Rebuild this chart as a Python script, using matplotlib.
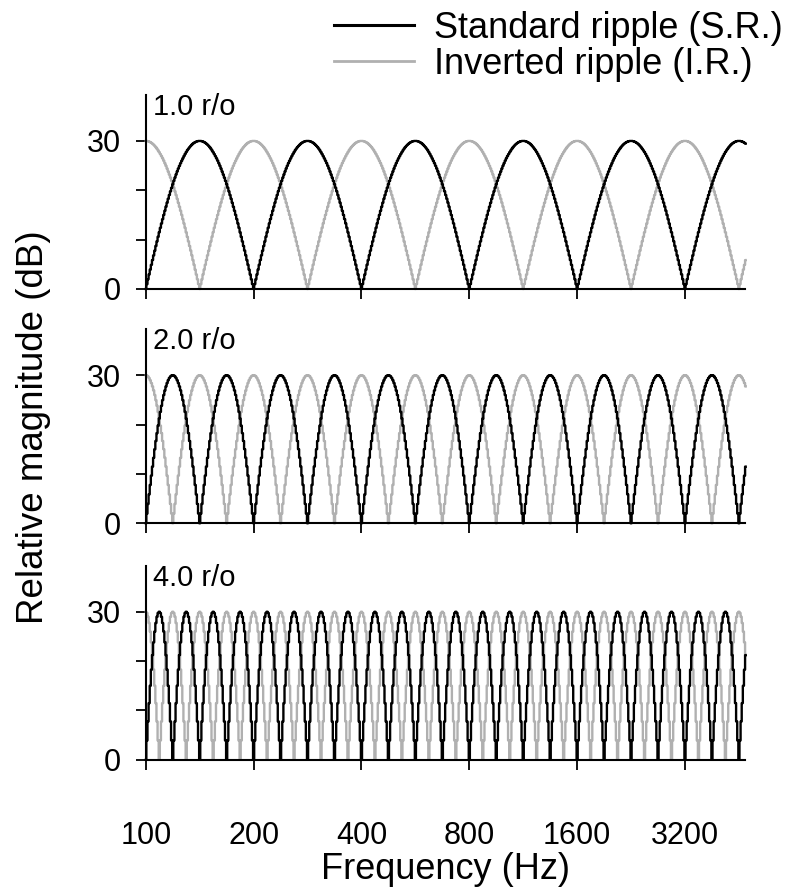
import numpy as np
import matplotlib
matplotlib.use('Agg')
import matplotlib.pyplot as plt
from matplotlib.lines import Line2D

plt.rcParams['font.family'] = ['Liberation Sans', 'DejaVu Sans']

# ripple stimulus parameters
ripple_densities = [1.0, 2.0, 4.0]          # ripples per octave
panel_labels = ['1.0 r/o', '2.0 r/o', '4.0 r/o']
ripple_depth_db = 30.0                      # peak-to-trough depth
freq_start_hz = 100.0
freq_stop_hz = 4720.0
samples_per_octave = 96

x_tick_values = [100, 200, 400, 800, 1600, 3200]
x_tick_labels = ['100', '200', '400', '800', '1600', '3200']
y_tick_values = [0, 10, 20, 30]
y_tick_labels = ['0', '', '', '30']

series_names = ['Standard ripple (S.R.)', 'Inverted ripple (I.R.)']
series_colors = ['#000000', '#b0b0b0']


def ripple_spectra(density):
    n_oct = np.log2(freq_stop_hz / freq_start_hz)
    octaves = np.arange(0, n_oct * samples_per_octave + 1) / samples_per_octave
    freqs = freq_start_hz * 2.0 ** octaves
    phase = np.pi * density * octaves
    standard = ripple_depth_db * np.abs(np.sin(phase))
    inverted = ripple_depth_db * np.abs(np.cos(phase))
    return freqs, standard, inverted


fig = plt.figure(figsize=(7.88, 8.96), dpi=100, facecolor='white')

left, width = 0.185, 0.761
bottoms = [0.6775, 0.416, 0.152]
height = 0.2165

axes = []
for i, (density, label) in enumerate(zip(ripple_densities, panel_labels)):
    ax = fig.add_axes([left, bottoms[i], width, height])
    freqs, sr, ir = ripple_spectra(density)

    # inverted first so the standard ripple sits on top
    ax.plot(freqs, ir, color=series_colors[1], lw=1.7, drawstyle='steps-mid', clip_on=False)
    ax.plot(freqs, sr, color=series_colors[0], lw=1.7, drawstyle='steps-mid', clip_on=False)

    ax.set_xscale('log', base=2)
    ax.set_xlim(freq_start_hz, freq_stop_hz)
    ax.set_ylim(0, 39.3)
    ax.set_xticks(x_tick_values)
    ax.minorticks_off()
    ax.set_yticks(y_tick_values)
    ax.set_yticklabels(y_tick_labels)

    if i == 2:
        ax.set_xticklabels(x_tick_labels)
    else:
        ax.set_xticklabels([])

    for side in ['top', 'right']:
        ax.spines[side].set_visible(False)
    for side in ['left', 'bottom']:
        ax.spines[side].set_linewidth(1.5)

    ax.tick_params(axis='both', direction='out', length=7, width=1.3, labelsize=22)
    ax.tick_params(axis='x', pad=37)
    ax.tick_params(axis='y', pad=11)

    ax.text(0.012, 1.01, label, transform=ax.transAxes, ha='left', va='top', fontsize=21)
    axes.append(ax)

axes[2].set_xlabel('Frequency (Hz)', fontsize=26, labelpad=1)
fig.text(0.042, (bottoms[2] + bottoms[0] + height) / 2, 'Relative magnitude (dB)',
         rotation=90, ha='center', va='center', fontsize=26.5)

legend_elements = [
    Line2D([0], [0], color=series_colors[0], lw=2.2, label=series_names[0]),
    Line2D([0], [0], color=series_colors[1], lw=2.0, label=series_names[1]),
]
fig.legend(handles=legend_elements, loc='upper right', bbox_to_anchor=(1.025, 1.016),
           frameon=False, fontsize=26, handlelength=2.2, handletextpad=0.55,
           labelspacing=0.02, borderpad=0.2)

fig.savefig('out.png', dpi=100, facecolor=fig.get_facecolor())
